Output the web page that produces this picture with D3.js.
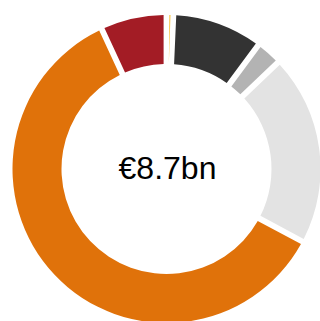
<!DOCTYPE html>
<html>
<head>
<meta charset="utf-8">
<script src="https://cdn.jsdelivr.net/npm/d3@7"></script>
<style>
  html, body { margin: 0; padding: 0; background: #ffffff; }
  svg { display: block; }
</style>
</head>
<body>
<svg id="chart" width="320" height="321"></svg>
<script>
// Segments, clockwise from 12 o'clock (values in € bn)
const categories = ["Segment A", "Segment B", "Segment C", "Segment D", "Segment E", "Segment F"];
const values = [0.01, 0.80, 0.19, 1.75, 5.40, 0.57];
const colors = ["#f5bd2e", "#333333", "#b3b3b3", "#e3e3e3", "#e0720a", "#a31c25"];

const width = 320, height = 321;
const cx = 166.5, cy = 169;
const outerR = 154, innerR = 105;
const gap = 5.8; // white separation between segments, px

const svg = d3.select("#chart");
const g = svg.append("g").attr("transform", `translate(${cx},${cy})`);

const data = categories.map((c, i) => ({ name: c, value: values[i] }));

const pie = d3.pie()
  .value(d => d.value)
  .sort(null)
  .startAngle(0)
  .endAngle(2 * Math.PI)
  .padAngle(gap / outerR);

const arc = d3.arc()
  .innerRadius(innerR)
  .outerRadius(outerR)
  .padRadius(outerR);

const color = d3.scaleOrdinal().domain(categories).range(colors);

g.selectAll("path")
  .data(pie(data))
  .join("path")
  .attr("d", arc)
  .attr("fill", d => color(d.data.name));

// Total in the centre
const total = d3.sum(values);
g.append("text")
  .attr("x", 1)
  .attr("y", 10)
  .attr("text-anchor", "middle")
  .attr("font-family", "Liberation Sans, Arial, sans-serif")
  .attr("font-size", 32)
  .attr("fill", "#000000")
  .text("€" + d3.format(".1f")(total) + "bn");
</script>
</body>
</html>
